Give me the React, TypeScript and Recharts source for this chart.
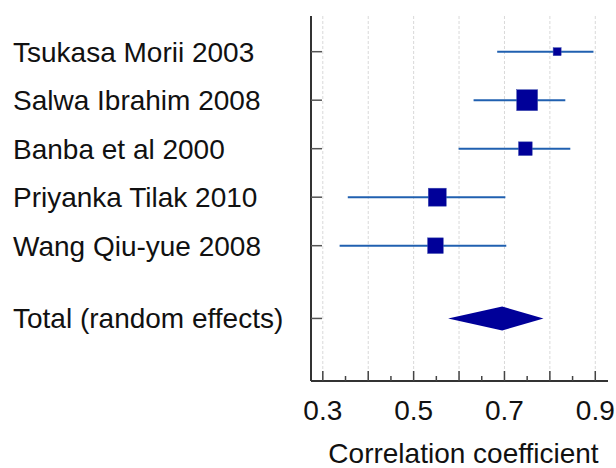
import { ScatterChart, Scatter, XAxis, YAxis, ErrorBar, CartesianGrid, ReferenceArea } from "recharts";

// studies, top to bottom
const studies = [
  "Tsukasa Morii 2003",
  "Salwa Ibrahim 2008",
  "Banba et al 2000",
  "Priyanka Tilak 2010",
  "Wang Qiu-yue 2008",
];
const estimates = [0.816, 0.75, 0.746, 0.552, 0.548];
const lower = [0.684, 0.632, 0.599, 0.355, 0.337];
const upper = [0.896, 0.834, 0.845, 0.702, 0.704];
const weights = [5.1, 34.9, 14.9, 25.7, 19.5]; // % weight -> square area

const totalLabel = "Total (random effects)";
const totalEstimate = 0.695;
const totalLower = 0.576;
const totalUpper = 0.786;

const xMajorTicks = [0.3, 0.4, 0.5, 0.6, 0.7, 0.8, 0.9];
const xMinorTicks = [0.35, 0.45, 0.55, 0.65, 0.75, 0.85];
const xLabelTicks = [0.3, 0.5, 0.7, 0.9];

const totalRow = studies.length + 0.5;
const rowLabels = [...studies, totalLabel];
const rowTicks = [...studies.map((_, i) => i), totalRow];

const data = studies.map((name, i) => ({
  name,
  x: estimates[i],
  y: i,
  err: [estimates[i] - lower[i], upper[i] - estimates[i]],
  w: weights[i],
}));

const FONT = "'Liberation Sans', Arial, sans-serif";

const XTick = (props: any) => {
  const { x, y, payload } = props;
  const v = payload.value;
  const major = xMajorTicks.some((t) => Math.abs(t - v) < 1e-6);
  const labeled = xLabelTicks.some((t) => Math.abs(t - v) < 1e-6);
  return (
    <g>
      <line x1={x} x2={x} y1={y} y2={y - (major ? 10 : 5)} stroke="#444" strokeWidth={1.5} />
      {labeled && (
        <text x={x} y={y + 39} textAnchor="middle" fontSize={28} fontFamily={FONT} fill="#111">
          {v.toFixed(1)}
        </text>
      )}
    </g>
  );
};

const YTick = (props: any) => {
  const { x, y, index } = props;
  return (
    <g>
      <line x1={x} x2={x + 11} y1={y} y2={y} stroke="#555" strokeWidth={1.5} />
      <text x={13} y={y + 10} textAnchor="start" fontSize={28} fontFamily={FONT} fill="#111">
        {rowLabels[index]}
      </text>
    </g>
  );
};

const Square = (props: any) => {
  const { cx, cy, payload } = props;
  const s = 3.55 * Math.sqrt(payload.w);
  return <rect x={cx - s / 2} y={cy - s / 2} width={s} height={s} fill="#000099" stroke="#4050b0" strokeWidth={0.5} />;
};

const Diamond = (props: any) => {
  const { x, y, width, height } = props;
  const f = (totalEstimate - totalLower) / (totalUpper - totalLower);
  const cx = x + width * f;
  const cy = y + height / 2;
  return (
    <polygon
      points={`${x},${cy} ${cx},${y} ${x + width},${cy} ${cx},${y + height}`}
      fill="#000099"
    />
  );
};

export default function App() {
  return (
    <div style={{ position: "absolute", left: 0, top: 0, background: "#fff" }}>
      <ScatterChart width={616} height={468} margin={{ top: 16, right: 8, left: 0, bottom: 0 }}>
        <CartesianGrid
          horizontal={false}
          stroke="#d9d9d9"
          strokeDasharray="3 2"
          {...({ verticalValues: xMajorTicks } as any)}
        />
        <XAxis
          dataKey="x"
          type="number"
          domain={[0.274, 0.928]}
          allowDataOverflow
          ticks={[...xMajorTicks, ...xMinorTicks].sort((a, b) => a - b)}
          interval={0}
          tick={<XTick />}
          tickLine={false}
          tickSize={0}
          tickMargin={0}
          axisLine={{ stroke: "#333", strokeWidth: 2 }}
          height={87}
          label={{
            value: "Correlation coefficient",
            position: "insideBottom",
            offset: 5,
            dx: 4,
            fontSize: 28,
            fontFamily: FONT,
            fill: "#111",
          }}
        />
        <YAxis
          dataKey="y"
          type="number"
          reversed
          domain={[-0.736, 6.79]}
          allowDataOverflow
          ticks={rowTicks}
          interval={0}
          tick={<YTick />}
          tickLine={false}
          tickSize={0}
          tickMargin={0}
          axisLine={{ stroke: "#333", strokeWidth: 2 }}
          width={311}
        />
        <ReferenceArea
          x1={totalLower}
          x2={totalUpper}
          y1={totalRow - 0.247}
          y2={totalRow + 0.247}
          shape={<Diamond />}
        />
        <Scatter data={data} shape={<Square />} isAnimationActive={false}>
          <ErrorBar dataKey="err" direction="x" width={0} stroke="#2060b0" strokeWidth={2} isAnimationActive={false} />
        </Scatter>
      </ScatterChart>
    </div>
  );
}
